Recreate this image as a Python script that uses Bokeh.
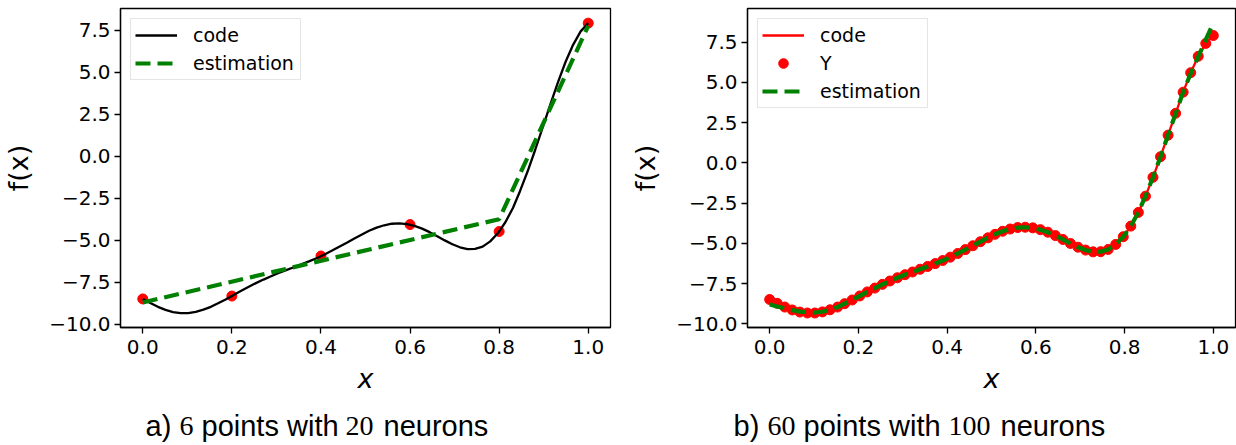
from bokeh.plotting import figure
from bokeh.layouts import row, column
from bokeh.models import (Range1d, FixedTicker, CustomJSTickFormatter, Legend,
                          LegendItem)
from bokeh.core.properties import value
from bokeh.embed import file_html
from bokeh.resources import INLINE

# ---------------- data ----------------
code_x = [0.000, 0.017, 0.034, 0.051, 0.068, 0.085, 0.102, 0.119, 0.136, 0.153,
          0.169, 0.186, 0.203, 0.220, 0.237, 0.254, 0.271, 0.288, 0.305, 0.322,
          0.339, 0.356, 0.373, 0.390, 0.407, 0.424, 0.441, 0.458, 0.475, 0.492,
          0.508, 0.525, 0.542, 0.559, 0.576, 0.593, 0.610, 0.627, 0.644, 0.661,
          0.678, 0.695, 0.712, 0.729, 0.746, 0.763, 0.780, 0.797, 0.814, 0.831,
          0.847, 0.864, 0.881, 0.898, 0.915, 0.932, 0.949, 0.966, 0.983, 1.000]
code_y = [-8.49, -8.73, -8.96, -9.14, -9.27, -9.33, -9.33, -9.26, -9.13, -8.96,
          -8.75, -8.52, -8.27, -8.02, -7.78, -7.55, -7.34, -7.14, -6.95, -6.78,
          -6.61, -6.44, -6.26, -6.07, -5.86, -5.63, -5.39, -5.15, -4.90, -4.66,
          -4.44, -4.25, -4.11, -4.02, -4.00, -4.04, -4.15, -4.31, -4.52, -4.76,
          -5.01, -5.24, -5.42, -5.53, -5.52, -5.38, -5.07, -4.59, -3.93, -3.08,
          -2.07, -0.90, 0.38, 1.72, 3.08, 4.39, 5.60, 6.62, 7.42, 7.91]

# panel a) : 6 training points and estimation
a_points_x = [0.0, 0.2, 0.4, 0.6, 0.8, 1.0]
a_points_y = [-8.49, -8.32, -5.94, -4.07, -4.48, 7.91]
a_est_x = [0.0, 0.8, 1.0]
a_est_y = [-8.70, -3.75, 7.75]

# panel b) : 60 training points (Y) and estimation
b_points_x = code_x
b_points_y = code_y
b_est_x = code_x
b_est_y = [-8.80, -8.92, -9.04, -9.15, -9.24, -9.28, -9.30, -9.25, -9.13, -8.96,
           -8.75, -8.52, -8.27, -8.02, -7.78, -7.55, -7.34, -7.14, -6.95, -6.78,
           -6.61, -6.44, -6.26, -6.07, -5.86, -5.63, -5.39, -5.15, -4.90, -4.66,
           -4.44, -4.25, -4.11, -4.02, -4.00, -4.04, -4.15, -4.31, -4.52, -4.76,
           -5.01, -5.24, -5.42, -5.53, -5.52, -5.38, -5.07, -4.59, -3.93, -3.08,
           -2.07, -0.90, 0.38, 1.72, 3.05, 4.40, 5.55, 6.60, 7.65, 8.68]

x_ticks = [0.0, 0.2, 0.4, 0.6, 0.8, 1.0]
y_ticks = [-10.0, -7.5, -5.0, -2.5, 0.0, 2.5, 5.0, 7.5]

# captions: words in sans serif, numbers in serif
cap_a_words = ["a)", "points", "with", "neurons"]
cap_a_nums = ["6", "20"]
cap_b_words = ["b)", "points", "with", "neurons"]
cap_b_nums = ["60", "100"]

FMT = "return tick.toFixed(1).replace('-', '\u2212');"


def make_fig(y_lo, y_hi, left_b, right_b):
    p = figure(width=618, height=405, x_range=Range1d(-0.05, 1.05),
               y_range=Range1d(y_lo, y_hi), output_backend="svg",
               toolbar_location=None, min_border_left=left_b,
               min_border_right=right_b, min_border_top=8,
               min_border_bottom=78)
    p.grid.visible = False
    p.outline_line_color = "black"
    p.outline_line_width = 1.3
    p.outline_line_alpha = 1.0
    p.xaxis.ticker = FixedTicker(ticks=x_ticks)
    p.yaxis.ticker = FixedTicker(ticks=y_ticks)
    p.xaxis.formatter = CustomJSTickFormatter(code=FMT)
    p.yaxis.formatter = CustomJSTickFormatter(code=FMT)
    for ax in p.axis:
        ax.major_label_text_font = "DejaVu Sans"
        ax.major_label_text_font_size = "20px"
        ax.major_label_text_color = "black"
        ax.major_tick_out = 6
        ax.major_tick_in = 0
        ax.minor_tick_out = 0
        ax.minor_tick_in = 0
        ax.axis_line_width = 1.3
        ax.axis_line_color = "black"
        ax.major_tick_line_width = 1.3
        ax.major_tick_line_color = "black"
        ax.axis_label_text_font = "DejaVu Sans"
        ax.axis_label_text_font_size = "27px"
        ax.axis_label_text_color = "black"
    p.xaxis.major_label_standoff = 6
    p.yaxis.major_label_standoff = 4
    p.xaxis.axis_label = "x"
    p.xaxis.axis_label_text_font_style = "italic"
    p.xaxis.axis_label_standoff = 6
    p.yaxis.axis_label = "f(x)"
    p.yaxis.axis_label_text_font_style = "normal"
    p.yaxis.axis_label_standoff = 12
    return p


def style_legend(items):
    return Legend(items=items, location="top_left", margin=10, padding=4,
                  spacing=4, glyph_width=42, glyph_height=24, label_height=24,
                  label_standoff=16, label_width=103,
                  label_text_font="DejaVu Sans", label_text_font_size="19px",
                  label_text_color="black",
                  border_line_color="#cccccc", border_line_width=1,
                  background_fill_alpha=0.8)


# ---------------- panel a ----------------
p1 = make_fig(-10.19, 8.78, 119, 8)
p1.scatter(a_points_x, a_points_y, size=10, color="red")
r1_code = p1.line(code_x, code_y, line_color="black", line_width=2.3)
r1_est = p1.line(a_est_x, a_est_y, line_color="green", line_width=4.2,
                 line_dash="15 7")
p1.add_layout(style_legend([LegendItem(label="code", renderers=[r1_code]),
                            LegendItem(label="estimation", renderers=[r1_est])]))

# ---------------- panel b ----------------
p2 = make_fig(-10.23, 9.59, 129, 1)
r2_code = p2.line(code_x, code_y, line_color="red", line_width=2.3)
r2_pts = p2.scatter(b_points_x, b_points_y, size=10, color="red")
r2_est = p2.line(b_est_x, b_est_y, line_color="green", line_width=4.2,
                 line_dash="15 7")
p2.add_layout(style_legend([LegendItem(label="code", renderers=[r2_code]),
                            LegendItem(label="Y", renderers=[r2_pts]),
                            LegendItem(label="estimation", renderers=[r2_est])]))

# ---------------- caption strip ----------------
pc = figure(width=1236, height=40, x_range=Range1d(0, 1236), y_range=Range1d(0, 40),
            output_backend="svg", toolbar_location=None, title_location=None,
            x_axis_location=None, y_axis_location=None,
            min_border_left=0, min_border_right=0, min_border_top=0,
            min_border_bottom=0)
pc.grid.visible = False
pc.outline_line_color = None
word_x = [145, 201, 286.5, 383, 733, 803, 888.5, 1000]
num_x = [179, 345, 767, 948]
pc.text(x=word_x, y=[20] * 8, text=cap_a_words + cap_b_words,
        text_font=value("Liberation Sans"), text_font_size="29px",
        text_color="black", text_baseline="alphabetic", text_align="left")
pc.text(x=num_x, y=[20] * 4, text=cap_a_nums + cap_b_nums,
        text_font=value("Liberation Serif"), text_font_size="28px",
        text_color="black", text_baseline="alphabetic", text_align="left")

layout = column(row(p1, p2, spacing=0), pc, spacing=0)
open("out.html", "w").write(file_html(layout, INLINE))
